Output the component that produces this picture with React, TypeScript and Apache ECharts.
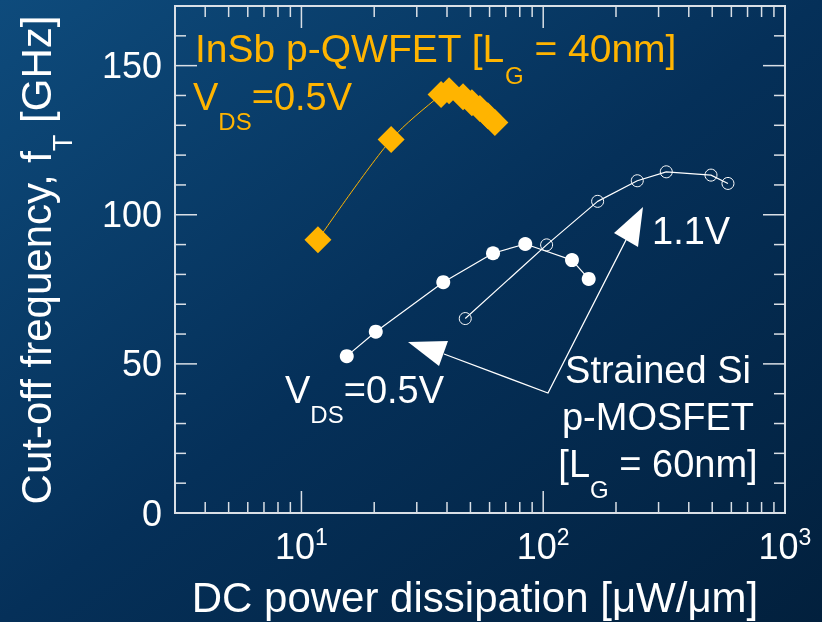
import React, { useEffect, useRef } from 'react';
import * as echarts from 'echarts';

const FONT = '"Liberation Sans", Arial, Helvetica, sans-serif';
const ORANGE = '#FFB400';
const WHITE = '#FFFFFF';
const FRAME = '#D9DFE6';

const xMin = 3;
const xMax = 1000;
const yMin = 0;
const yMax = 170;
const yInterval = 50;

// InSb p-QWFET, VDS = 0.5 V
const insbX = [11.7, 23.5, 37.8, 40.8, 46.6, 50.7, 54.7, 59.0, 63.1];
const insbY = [91.6, 125.2, 140.3, 141.6, 139.6, 137.6, 135.6, 133.2, 130.9];
// Strained Si p-MOSFET, VDS = 0.5 V
const si05X = [15.4, 20.3, 38.6, 62.0, 84.3, 131.5, 154.2];
const si05Y = [52.6, 60.8, 77.4, 87.1, 90.2, 84.8, 78.5];
// Strained Si p-MOSFET, VDS = 1.1 V
const si11X = [47.6, 103.3, 167.9, 244.9, 322.8, 494.2, 580.9];
const si11Y = [65.2, 89.9, 104.5, 111.4, 114.4, 113.3, 110.5];

const xMinorTicks = [4, 5, 6, 7, 8, 9, 20, 30, 40, 50, 60, 70, 80, 90, 200, 300, 400, 500, 600, 700, 800, 900];
const xMajorTicks = [10, 100];
const yMinorTicks = [10, 20, 30, 40, 60, 70, 80, 90, 110, 120, 130, 140, 160];
const yMajorTicks = [50, 100, 150];

const zip = (xs: number[], ys: number[]) => xs.map((x, i) => [x, ys[i]]);

let measureCtx: CanvasRenderingContext2D | null = null;
function measure(text: string, size: number): number {
  if (!measureCtx) measureCtx = document.createElement('canvas').getContext('2d');
  if (!measureCtx) return text.length * size * 0.55;
  measureCtx.font = `${size}px ${FONT}`;
  return measureCtx.measureText(text).width;
}

type Piece = { t: string; sub?: boolean };
function lineEls(pieces: Piece[], x0: number, y: number, size: number, subSize: number, drop: number, color: string) {
  const els: any[] = [];
  let x = x0;
  for (const p of pieces) {
    const s = p.sub ? subSize : size;
    els.push({
      type: 'text',
      x,
      y: p.sub ? y + drop : y,
      silent: true,
      style: {
        text: p.t,
        fill: color,
        fontSize: s,
        fontFamily: FONT,
        align: 'left',
        textAlign: 'left',
        verticalAlign: 'middle',
        textVerticalAlign: 'middle',
      },
    });
    x += measure(p.t, s);
  }
  return els;
}
function lineWidth(pieces: Piece[], size: number, subSize: number) {
  return pieces.reduce((w, p) => w + measure(p.t, p.sub ? subSize : size), 0);
}
function centered(pieces: Piece[], cx: number, y: number, size: number, subSize: number, drop: number, color: string) {
  const w = lineWidth(pieces, size, subSize);
  return lineEls(pieces, cx - w / 2, y, size, subSize, drop, color);
}

export default function App() {
  const ref = useRef<HTMLDivElement>(null);
  useEffect(() => {
    if (!ref.current) return;
    const chart = echarts.init(ref.current, null, { renderer: 'svg' });

    const tickStyle = { stroke: FRAME, lineWidth: 1.5 };
    const yTitlePieces: Piece[] = [{ t: 'Cut-off frequency, f' }, { t: 'T', sub: true }, { t: ' [GHz]' }];
    const yTitleW = lineWidth(yTitlePieces, 42, 27);

    const graphics: any[] = [
      {
        type: 'rect',
        z: -100,
        silent: true,
        shape: { x: 0, y: 0, width: 822, height: 622 },
        style: {
          fill: new echarts.graphic.LinearGradient(0, 0, 1, 1, [
            { offset: 0, color: '#0e4b7c' },
            { offset: 0.5, color: '#053059' },
            { offset: 1, color: '#02203d' },
          ]),
        },
      },
      // annotation arrows
      {
        type: 'polyline',
        z: 50,
        silent: true,
        shape: { points: [[444, 354], [548, 393], [627, 238]] },
        style: { stroke: WHITE, lineWidth: 1.3, fill: null },
      },
      {
        type: 'polygon',
        z: 50,
        silent: true,
        shape: { points: [[408, 342], [448, 341], [439, 366]] },
        style: { fill: WHITE },
      },
      {
        type: 'polygon',
        z: 50,
        silent: true,
        shape: { points: [[614, 233], [643, 207], [638, 247]] },
        style: { fill: WHITE },
      },
      {
        type: 'group',
        z: 50,
        children: [
          ...lineEls([{ t: 'InSb p-QWFET [L' }, { t: 'G', sub: true }, { t: ' = 40nm]' }], 195, 48, 39, 24, 27, ORANGE),
          ...lineEls([{ t: 'V' }, { t: 'DS', sub: true }, { t: '=0.5V' }], 193, 97, 38, 24, 24, ORANGE),
          ...lineEls([{ t: 'V' }, { t: 'DS', sub: true }, { t: '=0.5V' }], 285, 390, 38, 24, 24, WHITE),
          ...lineEls([{ t: '1.1V' }], 652, 231, 38, 24, 24, WHITE),
          ...centered([{ t: 'Strained Si' }], 658, 370, 38, 24, 24, WHITE),
          ...centered([{ t: 'p-MOSFET' }], 658, 417, 38, 24, 24, WHITE),
          ...centered([{ t: '[L' }, { t: 'G', sub: true }, { t: ' = 60nm]' }], 658, 464, 38, 24, 25, WHITE),
          ...centered([{ t: 'DC power dissipation [μW/μm]' }], 475, 597, 42, 26, 26, WHITE),
        ],
      },
      {
        type: 'group',
        x: 36,
        y: 260,
        rotation: Math.PI / 2,
        z: 50,
        children: lineEls(yTitlePieces, -yTitleW / 2, 0, 42, 27, 27, WHITE),
      },
    ];

    const option: any = {
      animation: false,
      grid: {
        left: 175,
        right: 37,
        top: 6,
        bottom: 109,
        show: true,
        borderColor: FRAME,
        borderWidth: 2,
        backgroundColor: 'transparent',
        containLabel: false,
        outerBoundsMode: 'none',
      },
      xAxis: {
        type: 'log',
        logBase: 10,
        min: xMin,
        max: xMax,
        axisLine: { show: true, lineStyle: { color: FRAME, width: 2 } },
        axisTick: { show: false },
        minorTick: { show: false },
        splitLine: { show: false },
        axisLabel: {
          color: WHITE,
          fontSize: 36,
          fontFamily: FONT,
          margin: 12,
          showMinLabel: false,
          showMaxLabel: true,
          formatter: (v: number) => {
            const l = Math.log10(v);
            const e = Math.round(l);
            if (Math.abs(l - e) > 1e-6) return '';
            return `{b|10}{s|${e}}`;
          },
          rich: {
            b: { fontSize: 36, fontFamily: FONT, color: WHITE, lineHeight: 42 },
            s: { fontSize: 23, fontFamily: FONT, color: WHITE, verticalAlign: 'top', lineHeight: 24 },
          },
        },
      },
      yAxis: {
        type: 'value',
        min: yMin,
        max: yMax,
        interval: yInterval,
        axisLine: { show: true, lineStyle: { color: FRAME, width: 2 } },
        axisTick: { show: false },
        splitLine: { show: false },
        axisLabel: {
          color: WHITE,
          fontSize: 36,
          fontFamily: FONT,
          margin: 13,
          showMaxLabel: false,
        },
      },
      graphic: graphics,
      series: [
        {
          type: 'custom',
          silent: true,
          z: 1,
          data: [...xMinorTicks, ...xMajorTicks].map((v) => [v, yMin]),
          renderItem: (_p: any, api: any) => {
            const v = api.value(0);
            const len = xMajorTicks.includes(v) ? 22 : 11;
            const b = api.coord([v, yMin]);
            const t = api.coord([v, yMax]);
            return {
              type: 'group',
              children: [
                { type: 'line', shape: { x1: b[0], y1: b[1], x2: b[0], y2: b[1] - len }, style: tickStyle },
                { type: 'line', shape: { x1: t[0], y1: t[1], x2: t[0], y2: t[1] + len }, style: tickStyle },
              ],
            };
          },
        },
        {
          type: 'custom',
          silent: true,
          z: 1,
          data: [...yMinorTicks, ...yMajorTicks].map((v) => [xMin, v]),
          renderItem: (_p: any, api: any) => {
            const v = api.value(1);
            const len = yMajorTicks.includes(v) ? 22 : 11;
            const l = api.coord([xMin, v]);
            const r = api.coord([xMax, v]);
            return {
              type: 'group',
              children: [
                { type: 'line', shape: { x1: l[0], y1: l[1], x2: l[0] + len, y2: l[1] }, style: tickStyle },
                { type: 'line', shape: { x1: r[0], y1: r[1], x2: r[0] - len, y2: r[1] }, style: tickStyle },
              ],
            };
          },
        },
        {
          name: 'InSb p-QWFET',
          type: 'line',
          data: zip(insbX, insbY),
          smooth: 0.3,
          symbol: 'diamond',
          symbolSize: 27,
          z: 5,
          lineStyle: { color: ORANGE, width: 1 },
          itemStyle: { color: ORANGE },
        },
        {
          name: 'Strained Si 0.5V',
          type: 'line',
          data: zip(si05X, si05Y),
          symbol: 'circle',
          symbolSize: 14,
          z: 4,
          lineStyle: { color: WHITE, width: 1.2 },
          itemStyle: { color: WHITE },
        },
        {
          name: 'Strained Si 1.1V',
          type: 'line',
          data: zip(si11X, si11Y),
          symbol: 'circle',
          symbolSize: 12,
          z: 4,
          lineStyle: { color: WHITE, width: 1.2 },
          itemStyle: { color: 'rgba(0,0,0,0)', borderColor: WHITE, borderWidth: 1 },
        },
      ],
    };
    chart.setOption(option);
    return () => chart.dispose();
  }, []);
  return <div ref={ref} style={{ position: 'fixed', left: 0, top: 0, width: 822, height: 622 }} />;
}
